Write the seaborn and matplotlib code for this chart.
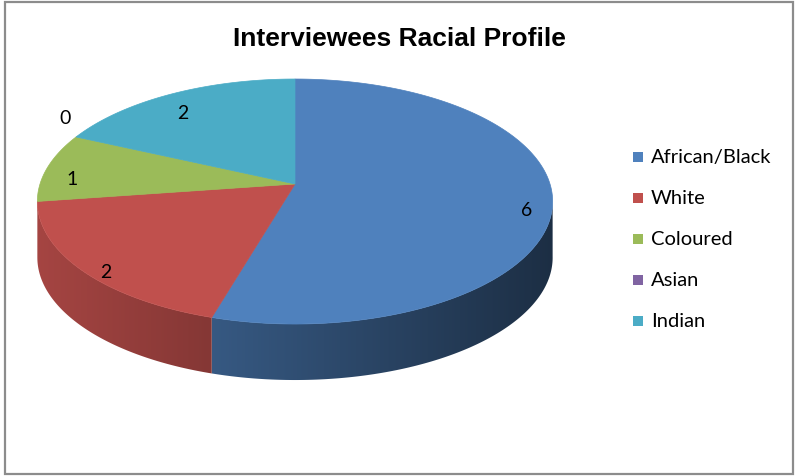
import numpy as np
import matplotlib
matplotlib.use("Agg")
import matplotlib.pyplot as plt
import seaborn as sns
from matplotlib.patches import Polygon, Rectangle
from matplotlib.colors import to_rgb

# ---- data ----
categories = ["African/Black", "White", "Coloured", "Asian", "Indian"]
values = [6, 2, 1, 0, 2]
colors = ["#4F81BD", "#C0504D", "#9BBB59", "#8064A2", "#4BACC6"]
title = "Interviewees Racial Profile"

sns.set_theme(style="white")
plt.rcParams['font.family'] = ['Lato', 'DejaVu Sans']

W, H = 797, 477
fig = plt.figure(figsize=(W / 100, H / 100), dpi=100)
ax = fig.add_axes([0, 0, 1, 1])
ax.axis('off')

# chart border
ax.add_patch(Rectangle((5, 3), 788, 472, fill=False, edgecolor="#8c8c8c", lw=1.6, zorder=0))

CX, CY, RX, RY, P, DEPTH = 295, 185, 255, 120, 0.143, 56


def proj(theta_deg, r=1.0):
    t = np.radians(theta_deg)
    u = r * np.sin(t)
    v = -r * np.cos(t)
    s = 1 / (1 - P * v)
    return CX + RX * u * s, CY + RY * v * s


total = float(sum(values))
bounds = np.concatenate([[0], np.cumsum(values)]) / total * 360.0
xmin, xmax = CX - RX * 1.01, CX + RX * 1.01

# sides (visible front half only), shaded with a horizontal gradient
for i, col in enumerate(colors):
    a0, a1 = bounds[i], bounds[i + 1]
    lo, hi = max(a0, 97.5), min(a1, 262.5)
    if hi <= lo:
        continue
    ts = np.linspace(lo, hi, 200)
    top = [proj(t) for t in ts]
    bot = [(x, y + DEPTH) for x, y in top][::-1]
    poly = Polygon(top + bot, closed=True, facecolor="none", edgecolor="none", zorder=1)
    ax.add_patch(poly)
    xs = np.linspace(xmin, xmax, 400)
    f = 0.86 - 0.50 * (xs - xmin) / (xmax - xmin)
    base = np.array(to_rgb(col))
    grad = np.clip(f[None, :, None] * base[None, None, :], 0, 1)
    im = ax.imshow(grad, extent=(xmin, xmax, CY + RY * 2 + DEPTH, CY - RY), aspect="auto",
                   interpolation="bilinear", zorder=1)
    im.set_clip_path(poly)

# top faces
for i, col in enumerate(colors):
    a0, a1 = bounds[i], bounds[i + 1]
    if a1 - a0 <= 0:
        continue
    ts = np.linspace(a0, a1, max(3, int((a1 - a0) * 2)))
    pts = [(CX, CY)] + [proj(t) for t in ts]
    ax.add_patch(Polygon(pts, closed=True, facecolor=col, edgecolor=col, lw=0.5, zorder=2))

# value labels
for i, v in enumerate(values):
    mid = (bounds[i] + bounds[i + 1]) / 2
    if v > 0:
        x, y = proj(mid, 0.9)
        y += 10
    else:
        x, y = proj(mid, 1.12)
        x, y = x + 14, y - 14
    ax.text(x, y, f"{v}", fontsize=14, ha="center", va="center", color="black", zorder=3)

# title
ax.text(399, 39, title, fontsize=19, fontweight="bold", family=["Liberation Sans", "DejaVu Sans"],
        ha="center", va="center", color="black")

# legend
for i, (cat, col) in enumerate(zip(categories, colors)):
    y = 158 + i * 41
    ax.add_patch(Rectangle((633, y - 5), 10, 10, facecolor=col, edgecolor="none"))
    ax.text(651, y, cat, fontsize=14.5, ha="left", va="center", color="black")

ax.set_xlim(0, W)
ax.set_ylim(H, 0)
fig.savefig("out.png", dpi=100)
